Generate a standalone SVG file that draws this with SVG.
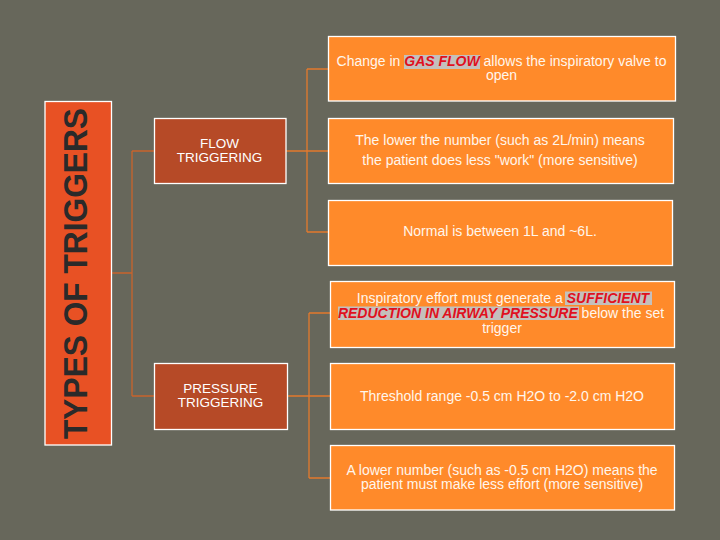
<svg xmlns="http://www.w3.org/2000/svg" width="720" height="540" viewBox="0 0 720 540">
<style>
.bg{fill:#67675B}
.title{fill:#E85124;stroke:#FFFFFF;stroke-width:1.3}
.mid{fill:#B64A27;stroke:#FFFFFF;stroke-width:1.3}
.leaf{fill:#FF8A2A;stroke:#FFFFFF;stroke-width:1.3}
.conn{stroke:#C9642C;stroke-width:1.3;fill:none}
.conn2{stroke:#E47A2D;stroke-width:1.3;fill:none}
.tt{font-family:"Liberation Sans",Arial,sans-serif;font-weight:bold;font-size:33px;fill:#2A2A2A}
.mt{font-family:"Liberation Sans",Arial,sans-serif;font-size:13.5px;fill:#FFFFFF;text-anchor:middle}
.lt{font-family:"Liberation Sans",Arial,sans-serif;font-size:14px;fill:#FFF6EC;text-anchor:middle}
.hl{fill:#C4C0BC}
.red{fill:#E0101E;font-weight:bold;font-style:italic}
</style>
<rect class="bg" x="0" y="0" width="720" height="540"/>
<g id="connectors">
<path class="conn" d="M111.5,273 H132 M132,151 V396 M132,151 H154 M132,396 H154"/>
<path class="conn2" d="M286,151 H328 M307,69 V232 M307,69 H328 M307,232 H328"/>
<path class="conn2" d="M288,396 H330 M309,313 V478 M309,313 H330 M309,478 H330"/>
</g>
<g id="title">
<rect class="title" x="45" y="101.5" width="66.5" height="343.5"/>
<text class="tt" transform="translate(87,439) rotate(-90)" textLength="331" lengthAdjust="spacingAndGlyphs">TYPES OF TRIGGERS</text>
</g>
<g id="flow">
<rect class="mid" x="154.5" y="118.5" width="131.5" height="65"/>
<text class="mt" x="219.5" y="147.5">FLOW</text>
<text class="mt" x="219.5" y="162">TRIGGERING</text>
</g>
<g id="pressure">
<rect class="mid" x="154.5" y="363.5" width="133" height="66"/>
<text class="mt" x="220.5" y="392.5">PRESSURE</text>
<text class="mt" x="220.5" y="407">TRIGGERING</text>
</g>
<g id="flow1">
<rect class="leaf" x="328.5" y="36.5" width="347" height="64.5"/>
<rect class="hl" x="404" y="55" width="76" height="14"/>
<text class="lt" x="501.5" y="65.5">Change in <tspan class="red">GAS FLOW</tspan> allows the inspiratory valve to</text>
<text class="lt" x="501.5" y="79.5">open</text>
</g>
<g id="flow2">
<rect class="leaf" x="328.5" y="118.5" width="345" height="65"/>
<text class="lt" x="500" y="144.5">The lower the number (such as 2L/min) means</text>
<text class="lt" x="500" y="164.5">the patient does less "work" (more sensitive)</text>
</g>
<g id="flow3">
<rect class="leaf" x="328.5" y="200.5" width="344" height="65"/>
<text class="lt" x="500" y="236">Normal is between 1L and ~6L.</text>
</g>
<g id="press1">
<rect class="leaf" x="330.5" y="281.5" width="344" height="66"/>
<rect class="hl" x="565" y="291.5" width="87" height="13.5"/>
<rect class="hl" x="338" y="306.5" width="241" height="13.5"/>
<text class="lt" x="503" y="303">Inspiratory effort must generate a <tspan class="red">SUFFICIENT</tspan></text>
<text class="lt" x="501" y="317.5"><tspan class="red">REDUCTION IN AIRWAY PRESSURE</tspan> below the set</text>
<text class="lt" x="502" y="332.5">trigger</text>
</g>
<g id="press2">
<rect class="leaf" x="330.5" y="363.5" width="344" height="66"/>
<text class="lt" x="502" y="401">Threshold range -0.5 cm H2O to -2.0 cm H2O</text>
</g>
<g id="press3">
<rect class="leaf" x="330.5" y="445.5" width="344" height="64.5"/>
<text class="lt" x="502" y="474.5">A lower number (such as -0.5 cm H2O) means the</text>
<text class="lt" x="502" y="488.5">patient must make less effort (more sensitive)</text>
</g>
</svg>
